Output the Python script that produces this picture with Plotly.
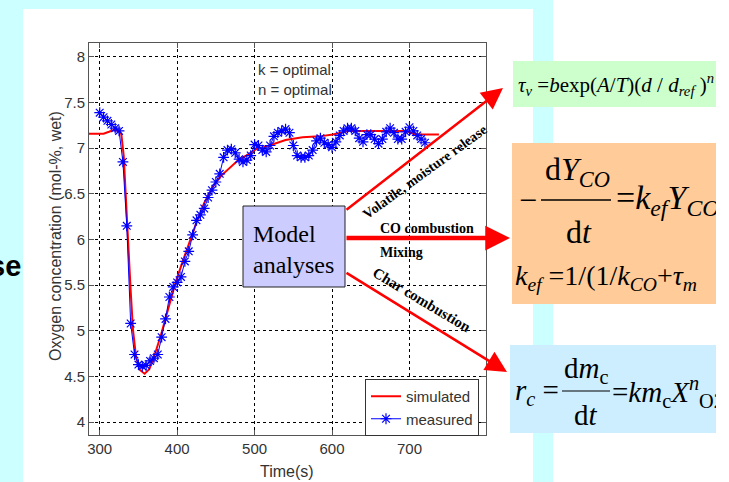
import plotly.graph_objects as go

# ---------------- data ----------------
meas_t = [300, 305, 310, 315, 320, 325, 330, 335, 340, 345, 350, 355, 360, 365, 370,
          375, 380, 385, 390, 395, 400, 405, 410, 415, 420, 425, 430, 435, 440, 445,
          450, 455, 460, 465, 470, 475, 480, 485, 490, 495, 500, 505, 510, 515, 520,
          525, 530, 535, 540, 545, 550, 555, 560, 565, 570, 575, 580, 585, 590, 595,
          600, 605, 610, 615, 620, 625, 630, 635, 640, 645, 650, 655, 660, 665, 670,
          675, 680, 685, 690, 695, 700, 705, 710, 715, 720]
meas_o2 = [7.39, 7.34, 7.30, 7.26, 7.22, 7.19, 6.85, 6.15, 5.08, 4.74, 4.63, 4.61, 4.62, 4.67, 4.70,
           4.74, 4.93, 5.13, 5.37, 5.48, 5.53, 5.59, 5.76, 5.87, 6.05, 6.21, 6.27, 6.34, 6.46, 6.54,
           6.63, 6.72, 6.90, 6.98, 6.99, 6.95, 6.88, 6.85, 6.87, 6.92, 7.04, 7.03, 6.98, 6.96, 7.03,
           7.13, 7.17, 7.19, 7.21, 7.17, 7.03, 6.92, 6.90, 6.90, 6.92, 6.98, 7.08, 7.11, 7.06, 7.04,
           7.01, 7.07, 7.14, 7.19, 7.22, 7.22, 7.19, 7.11, 7.07, 7.15, 7.15, 7.10, 7.05, 7.10, 7.18,
           7.22, 7.17, 7.10, 7.10, 7.18, 7.23, 7.19, 7.14, 7.10, 7.06]

sim_t = [286, 300, 305, 312, 318, 326, 328, 331, 336, 340, 343, 347, 352, 358, 364, 370,
         379, 388, 398, 408, 418, 426, 435, 446, 457, 468, 479, 489, 502, 519, 540, 562,
         584, 601, 612, 622, 648, 674, 695, 708, 738]
sim_o2 = [7.16, 7.16, 7.16, 7.18, 7.20, 7.19, 7.15, 6.92, 6.03, 5.44, 5.01, 4.71, 4.57, 4.53, 4.58, 4.71,
          4.95, 5.22, 5.53, 5.78, 6.02, 6.21, 6.40, 6.58, 6.70, 6.79, 6.87, 6.92, 6.99, 7.03, 7.09, 7.12,
          7.13, 7.15, 7.17, 7.19, 7.19, 7.19, 7.19, 7.15, 7.15]

x_ticks = [300, 400, 500, 600, 700]
y_ticks = [4, 4.5, 5, 5.5, 6, 6.5, 7, 7.5, 8]
y_tick_labels = ["4", "4.5", "5", "5.5", "6", "6.5", "7", "7.5", "8"]

# ---------------- layout helpers ----------------
W, H = 729, 482
L, R, T, B = 89, 486, 43, 435


def PX(x):
    return (x - L) / (R - L)


def PY(y):
    return (B - y) / (B - T)


SANS = "Liberation Sans Narrow, Arial Narrow, Liberation Sans, Arial, sans-serif"
SERIF = "Liberation Serif, Times New Roman, serif"
CYAN = "#ccffff"

fig = go.Figure()
fig.add_trace(go.Scatter(x=sim_t, y=sim_o2, mode="lines", name="simulated",
                         line=dict(color="#ff0000", width=2)))
fig.add_trace(go.Scatter(x=meas_t, y=meas_o2, mode="lines+markers", name="measured",
                         line=dict(color="#0000ff", width=1),
                         marker=dict(symbol="asterisk-open", size=9,
                                     line=dict(color="#0000ff", width=1.2))))

shapes = []


def rect(x0, y0, x1, y1, fill, line=None, layer="below"):
    shapes.append(dict(type="rect", xref="paper", yref="paper",
                       x0=PX(x0), x1=PX(x1), y0=PY(y1), y1=PY(y0),
                       fillcolor=fill, layer=layer,
                       line=dict(width=1 if line else 0, color=line or fill)))


def hline(x0, x1, y, width=1.5):
    shapes.append(dict(type="line", xref="paper", yref="paper",
                       x0=PX(x0), x1=PX(x1), y0=PY(y), y1=PY(y),
                       line=dict(color="black", width=width), layer="above"))


# panels
rect(23, 9, 533, 482, "white")
rect(553, 0, 729, 482, "white")
# model box
rect(243, 206, 345, 287, "#ccccff", line="#222222", layer="above")
# equation boxes
rect(513, 61, 716, 107, "#ccffcc")
rect(512, 143, 716, 304, "#ffcc99")
rect(510, 345, 716, 433, "#cceeff")
# fraction bars
hline(541, 611, 200, 1.5)
hline(562, 610, 391, 1.2)

ann = []


def text(x, y, s, size, family=SERIF, color="black", xanchor="left", angle=0):
    ann.append(dict(x=PX(x), y=PY(y), xref="paper", yref="paper", text=s,
                    showarrow=False, xanchor=xanchor, yanchor="middle",
                    textangle=angle, font=dict(family=family, size=size, color=color)))


def arrow(x0, y0, x1, y1, width, size):
    ann.append(dict(x=PX(x1), y=PY(y1), xref="paper", yref="paper", text="",
                    showarrow=True, ax=x0 - x1, ay=y0 - y1, axref="pixel", ayref="pixel",
                    arrowhead=2, arrowsize=size, arrowwidth=width, arrowcolor="#ff0000",
                    standoff=0, startstandoff=0))


# axis titles
text(55, 236, "Oxygen concentration (mol-%, wet)", 16, SANS, "#333333", "center", -90)
text(287, 471, "Time(s)", 16, SANS, "#333333", "center")
# in-plot note
ann.append(dict(x=PX(256), y=PY(79), xref="paper", yref="paper",
                text="k = optimal<br>n = optimal", showarrow=False, xanchor="left",
                yanchor="middle", align="left",
                font=dict(family=SANS, size=15, color="#333333")))
# left clipped title text
text(23, 266, "<b>se</b>", 29, "Liberation Sans, Arial, sans-serif", "black", "right")

# model box text
ann.append(dict(x=PX(251), y=PY(249), xref="paper", yref="paper",
                text="Model<br>analyses", showarrow=False, xanchor="left",
                yanchor="middle", align="left",
                font=dict(family=SERIF, size=24, color="black")))

# arrows
arrow(345, 211, 503, 88, 2.5, 1.7)
arrow(345, 238, 510, 238, 4.5, 1.1)
arrow(345, 272, 507, 372, 2.5, 1.7)

# arrow labels
text(424, 172, "<b>Volatile, moisture release</b>", 14, SERIF, "black", "center", -36)
text(378, 228, "<b>CO combustion</b>", 14, SERIF)
text(378, 252, "<b>Mixing</b>", 14, SERIF)
text(422, 300, "<b>Char combustion</b>", 15, SERIF, "black", "center", 31)

# equations
text(516, 84, "<i>τ</i><sub><i>v</i></sub> =<i>b</i>exp(<i>A</i>/<i>T</i>)(<i>d</i> / <i>d</i><sub><i>ref</i></sub> )<sup><i>n</i></sup>", 21)
text(517, 200, "−", 32)
text(577, 171, "d<i>Y</i><sub><i>CO</i></sub>", 32, xanchor="center")
text(579, 232, "d<i>t</i>", 32, xanchor="center")
text(614, 200, "=<i>k</i><sub><i>ef</i></sub><i>Y</i><sub><i>CO</i></sub>", 34)
text(513, 277, "<i>k</i><sub><i>ef</i></sub> =1/(1/<i>k</i><sub><i>CO</i></sub>+<i>τ</i><sub><i>m</i></sub>", 28)
text(513, 392, "<i>r</i><sub><i>c</i></sub> =", 29)
text(586, 370, "d<i>m</i><sub>c</sub>", 29, xanchor="center")
text(586, 415, "d<i>t</i>", 29, xanchor="center")
text(610, 392, "=<i>km</i><sub>c</sub><i>X</i><sup><i>n</i></sup><sub>O2</sub>", 29)

# right-edge mask (clips equation overflow)
ann.append(dict(x=PX(716), y=PY(0), xref="paper", yref="paper", text=" ",
                showarrow=False, xanchor="left", yanchor="top", width=20, height=482,
                bgcolor="white", borderpad=0, borderwidth=0))

fig.update_layout(
    width=W, height=H,
    margin=dict(l=L, r=W - R, t=T, b=H - B, pad=0),
    paper_bgcolor=CYAN, plot_bgcolor="white",
    shapes=shapes, annotations=ann,
    font=dict(family=SANS, size=15, color="#333333"),
    legend=dict(x=PX(479), y=PY(436), xanchor="right", yanchor="bottom",
                bgcolor="white", bordercolor="#333333", borderwidth=1,
                font=dict(family=SANS, size=15, color="#333333"),
                tracegroupgap=0, itemwidth=30),
    xaxis=dict(range=[286.2, 798.8], tickvals=x_ticks, showgrid=True,
               gridcolor="black", griddash="3px,3px", gridwidth=1,
               showline=True, mirror="allticks", linecolor="#555555", linewidth=1,
               ticks="inside", ticklen=5, tickcolor="#555555", zeroline=False,
               tickfont=dict(family=SANS, size=15, color="#333333")),
    yaxis=dict(range=[3.858, 8.153], tickvals=y_ticks, ticktext=y_tick_labels,
               showgrid=True, gridcolor="black", griddash="3px,3px", gridwidth=1,
               showline=True, mirror="allticks", linecolor="#555555", linewidth=1,
               ticks="inside", ticklen=5, tickcolor="#555555", zeroline=False,
               tickfont=dict(family=SANS, size=15, color="#333333")),
)

fig.write_html("out.html", config={"displayModeBar": False},
               post_script="document.body.style.margin='0';document.body.style.padding='0';")
